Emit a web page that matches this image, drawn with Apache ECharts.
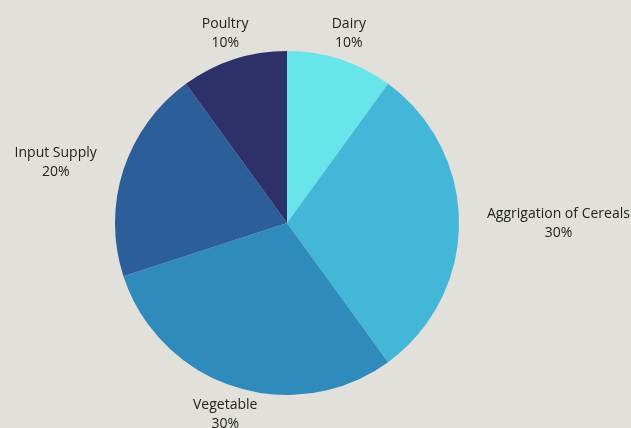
<!DOCTYPE html>
<html>
<head>
<meta charset="utf-8">
<script src="https://cdn.jsdelivr.net/npm/echarts@6/dist/echarts.min.js"></script>
<style>
html,body{margin:0;padding:0;background:#E1E0DA;}
#chart{width:631px;height:428px;}
</style>
</head>
<body>
<div id="chart"></div>
<script>
const categories = ["Dairy", "Aggrigation of Cereals", "Vegetable", "Input Supply", "Poultry"];
const values = [10, 30, 30, 20, 10];
const colors = ["#67E5EA", "#42B7D8", "#2E8BBB", "#2C5E99", "#2E3169"];

const CX = 287, CY = 223, R = 172, LABEL_R = 200;
const total = values.reduce((a, b) => a + b, 0);
const midAngles = [];
let acc = 0;
values.forEach(v => { midAngles.push((acc + v / 2) / total * 2 * Math.PI); acc += v; });

const chart = echarts.init(document.getElementById('chart'));
chart.setOption({
  backgroundColor: '#E1E0DA',
  animation: false,
  series: [{
    type: 'pie',
    center: [CX, CY],
    radius: R,
    startAngle: 90,
    clockwise: true,
    data: categories.map((c, i) => ({ name: c, value: values[i], itemStyle: { color: colors[i] } })),
    label: {
      show: true,
      position: 'outside',
      formatter: p => p.name + '\n' + p.value + '%',
      fontFamily: 'Open Sans',
      fontSize: 14,
      lineHeight: 19,
      color: '#222222',
      overflow: 'none',
      align: 'center'
    },
    labelLine: { show: false },
    labelLayout: function (params) {
      const a = midAngles[params.dataIndex];
      const dx = Math.sin(a), dy = -Math.cos(a);
      const w = params.labelRect.width;
      let x = CX + LABEL_R * dx;
      if (Math.abs(dx) > 0.8) x += (dx > 0 ? 1 : -1) * w / 2;
      return { x: x, y: CY + LABEL_R * dy + 1, align: 'center', verticalAlign: 'middle' };
    }
  }]
});
</script>
</body>
</html>
